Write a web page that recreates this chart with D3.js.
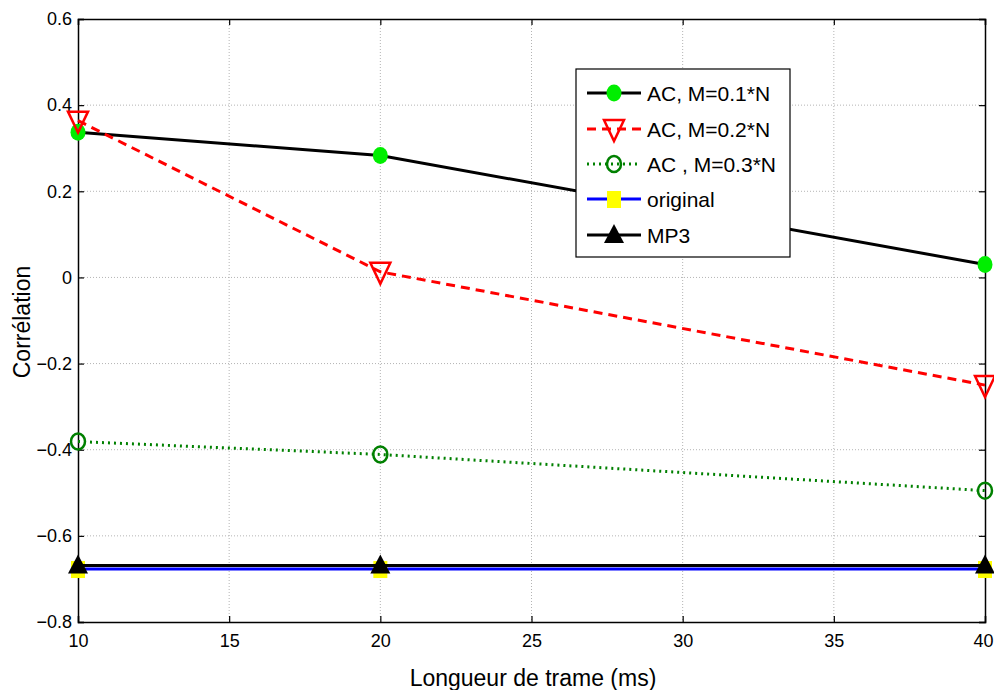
<!DOCTYPE html>
<html><head><meta charset="utf-8">
<script src="https://cdn.jsdelivr.net/npm/d3@7"></script>
<style>body{margin:0;background:#fff}svg{display:block}text{font-family:"Liberation Sans",Arial,sans-serif}</style>
</head><body><svg id="c" width="994" height="690"></svg>
<script>
const frameLengths = [10, 20, 40];
const ac01 = [0.337, 0.283, 0.030];
const ac02 = [0.364, 0.013, -0.250];
const ac03 = [-0.381, -0.411, -0.495];
const original = [-0.677, -0.677, -0.677];
const mp3 = [-0.669, -0.669, -0.669];
const xTicks = [10, 15, 20, 25, 30, 35, 40];
const yTicks = [-0.8, -0.6, -0.4, -0.2, 0, 0.2, 0.4, 0.6];
const legendLabels = ["AC, M=0.1*N", "AC, M=0.2*N", "AC , M=0.3*N", "original", "MP3"];

const svg = d3.select("#c");
const L = 78, R = 985, T = 19, B = 622;
const x = d3.scaleLinear().domain([10, 40]).range([L, R]);
const y = d3.scaleLinear().domain([-0.8, 0.6]).range([B, T]);

// grid
const g = svg.append("g");
g.selectAll(".gx").data(xTicks.slice(1, -1)).enter().append("line")
  .attr("x1", d => x(d)).attr("x2", d => x(d)).attr("y1", T).attr("y2", B)
  .attr("stroke", "#b4b4b4").attr("stroke-width", 1).attr("stroke-dasharray", "1,2");
g.selectAll(".gy").data(yTicks.slice(1, -1)).enter().append("line")
  .attr("y1", d => y(d)).attr("y2", d => y(d)).attr("x1", L).attr("x2", R)
  .attr("stroke", "#b4b4b4").attr("stroke-width", 1).attr("stroke-dasharray", "1,2");

// axes with inward ticks
const fmt = d => d === 0 ? "0" : d3.format(".1f")(d);
const axB = svg.append("g").attr("transform", `translate(0,${B})`)
  .call(d3.axisBottom(x).tickValues(xTicks).tickSize(-6).tickPadding(12).tickFormat(d3.format("d")));
const axL = svg.append("g").attr("transform", `translate(${L},0)`)
  .call(d3.axisLeft(y).tickValues(yTicks).tickSize(-6).tickPadding(6).tickFormat(fmt));
const axT = svg.append("g").attr("transform", `translate(0,${T})`)
  .call(d3.axisTop(x).tickValues(xTicks).tickSize(-6).tickFormat(""));
const axR = svg.append("g").attr("transform", `translate(${R},0)`)
  .call(d3.axisRight(y).tickValues(yTicks).tickSize(-6).tickFormat(""));
[axB, axL, axT, axR].forEach(a => {
  a.select(".domain").attr("stroke", "#000").attr("stroke-width", 1.5);
  a.selectAll(".tick line").attr("stroke", "#000").attr("stroke-width", 1.2);
  a.selectAll("text").attr("font-size", 18).attr("fill", "#000")
    .attr("font-family", "'Liberation Sans', Arial, sans-serif");
});
// keep the last x tick label inside the page
axB.selectAll(".tick text").filter(d => d === 40).attr("text-anchor", "end").attr("x", 8);

// axis labels
svg.append("text").attr("x", 533).attr("y", 686).attr("text-anchor", "middle")
  .attr("font-size", 23).text("Longueur de trame (ms)");
svg.append("text").attr("transform", "translate(30,322) rotate(-90)").attr("text-anchor", "middle")
  .attr("font-size", 23).text("Corrélation");

const series = [
  {vals: ac01, stroke: "#000", dash: null, marker: "circleFill"},
  {vals: ac02, stroke: "#ff0000", dash: "9,6", marker: "triDown"},
  {vals: ac03, stroke: "#008000", dash: "2,4", marker: "circleOpen"},
  {vals: original, stroke: "#0000ff", dash: null, marker: "square"},
  {vals: mp3, stroke: "#000", dash: null, marker: "triUp"}
];

function drawMarker(sel, type, cx, cy) {
  if (type === "circleFill") sel.append("ellipse").attr("cx", cx).attr("cy", cy).attr("rx", 7.5).attr("ry", 8.5).attr("fill", "#00ee00");
  else if (type === "circleOpen") sel.append("ellipse").attr("cx", cx).attr("cy", cy).attr("rx", 7).attr("ry", 8).attr("fill", "none").attr("stroke", "#008000").attr("stroke-width", 2.5);
  else if (type === "triDown") sel.append("path").attr("d", `M${cx-10},${cy-9}L${cx+10},${cy-9}L${cx},${cy+12}Z`).attr("fill", "none").attr("stroke", "#ff0000").attr("stroke-width", 2.5);
  else if (type === "square") sel.append("rect").attr("x", cx-7).attr("y", cy-8).attr("width", 14).attr("height", 17).attr("fill", "#ffff00");
  else if (type === "triUp") sel.append("path").attr("d", `M${cx},${cy-11}L${cx+10},${cy+8}L${cx-10},${cy+8}Z`).attr("fill", "#000");
}

const line = d3.line().x((d, i) => x(frameLengths[i])).y(d => y(d));
series.forEach(s => {
  const gs = svg.append("g");
  gs.append("path").datum(s.vals).attr("d", line).attr("fill", "none")
    .attr("stroke", s.stroke).attr("stroke-width", 3).attr("stroke-dasharray", s.dash);
  s.vals.forEach((v, i) => drawMarker(gs, s.marker, x(frameLengths[i]), y(v)));
});

// legend
const lg = svg.append("g");
lg.append("rect").attr("x", 576).attr("y", 69).attr("width", 214).attr("height", 188)
  .attr("fill", "#fff").attr("stroke", "#000").attr("stroke-width", 1.2);
const rowY = [93, 129, 164, 199, 235];
series.forEach((s, i) => {
  const yy = rowY[i];
  lg.append("line").attr("x1", 587).attr("x2", 641).attr("y1", yy).attr("y2", yy)
    .attr("stroke", s.stroke).attr("stroke-width", 3).attr("stroke-dasharray", s.dash);
  drawMarker(lg, s.marker, 614, yy);
  lg.append("text").attr("x", 647).attr("y", yy + 8).attr("font-size", 21).text(legendLabels[i]);
});
</script></body></html>
